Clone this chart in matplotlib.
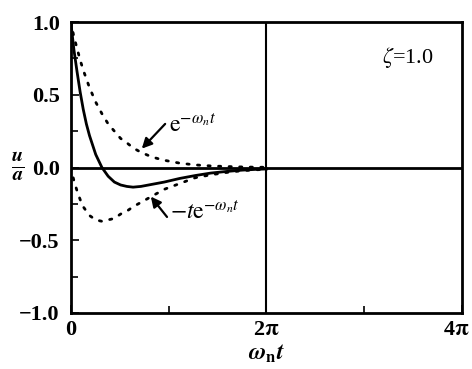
import numpy as np
import matplotlib
matplotlib.use("Agg")
from matplotlib import pyplot as plt
import matplotlib.transforms as mtransforms

plt.rcParams['font.family'] = ['Liberation Serif', 'DejaVu Serif']
plt.rcParams['mathtext.fontset'] = 'stix'

# omega_n * t values (radians)
t = [0.0, 0.1, 0.2, 0.3, 0.4, 0.5, 0.6, 0.8, 1.0, 1.2, 1.4, 1.6, 1.8, 2.0,
     2.25, 2.5, 2.75, 3.0, 3.5, 4.0, 4.5, 5.0, 5.5, 6.0, 6.28]
# response u/a (solid)
u_resp = [1.00, 0.81, 0.66, 0.52, 0.40, 0.30, 0.22, 0.09, 0.0, -0.06, -0.10,
          -0.12, -0.13, -0.135, -0.13, -0.12, -0.11, -0.10, -0.075, -0.055,
          -0.038, -0.027, -0.018, -0.012, -0.010]
# e^{-w t} (dotted, upper)
u_exp = [1.00, 0.90, 0.82, 0.74, 0.67, 0.61, 0.55, 0.45, 0.37, 0.30, 0.25,
         0.20, 0.17, 0.135, 0.105, 0.082, 0.064, 0.050, 0.030, 0.018, 0.011,
         0.007, 0.004, 0.002, 0.002]
# -t e^{-w t} (dotted, lower)
u_texp = [0.0, -0.09, -0.16, -0.22, -0.27, -0.30, -0.33, -0.36, -0.37, -0.36,
          -0.35, -0.32, -0.30, -0.27, -0.24, -0.21, -0.18, -0.15, -0.11, -0.07,
          -0.05, -0.034, -0.022, -0.015, -0.012]

fig = plt.figure(figsize=(4.72, 3.69), dpi=100)
ax = fig.add_axes([0.150, 0.152, 0.829, 0.788])

ax.axhline(0, color='black', lw=2)
ax.axvline(2 * np.pi, color='black', lw=1.5)

ax.plot(t, u_resp, color='black', lw=2)
ax.plot(t, u_exp, color='black', lw=2, linestyle=(0, (0.8, 3)), dash_capstyle='round')
ax.plot(t, u_texp, color='black', lw=2, linestyle=(0, (0.8, 3)), dash_capstyle='round')

# annotations
arrow = dict(arrowstyle='-|>', color='black', lw=1.6, mutation_scale=15,
             shrinkA=0, shrinkB=0)
ax.annotate('', xy=(2.28, 0.13), xytext=(3.03, 0.30), arrowprops=arrow)
ax.text(3.14, 0.29, r'$\mathrm{e}^{-\omega_n t}$', fontsize=17, ha='left', va='center')
ax.annotate('', xy=(2.57, -0.20), xytext=(3.09, -0.34), arrowprops=arrow)
ax.text(3.17, -0.31, r'$-t\mathrm{e}^{-\omega_n t}$', fontsize=17, ha='left', va='center')
ax.text(9.98, 0.76, r'$\zeta$=1.0', fontsize=16, ha='left', va='center')

ax.set_xlim(0, 4 * np.pi)
ax.set_ylim(-1, 1)
ax.set_xticks([0, 2 * np.pi, 4 * np.pi])
ax.set_xticklabels(['0', r'2$\mathbf{\pi}$', r'4$\mathbf{\pi}$'])
ax.set_xticks([np.pi, 3 * np.pi], minor=True)
ax.set_yticks([-1.0, -0.5, 0.0, 0.5, 1.0])
ax.set_yticklabels(['\u22121.0', '\u22120.5', '0.0', '0.5', '1.0'])
ax.set_yticks([-0.75, -0.25, 0.25, 0.75], minor=True)
ax.tick_params(axis='both', which='both', direction='in', width=1.2)
ax.tick_params(axis='both', which='major', length=6, labelsize=16)
ax.tick_params(axis='x', which='major', pad=5)
ax.tick_params(axis='y', which='major', pad=8)
ax.tick_params(axis='both', which='minor', length=5)
for lab in ax.get_xticklabels() + ax.get_yticklabels():
    lab.set_fontweight('bold')
for sp in ax.spines.values():
    sp.set_linewidth(2)

# keep the 4pi label inside the figure
last = ax.get_xticklabels()[-1]
last.set_transform(last.get_transform() +
                   mtransforms.ScaledTranslation(-6 / 100, 0, fig.dpi_scale_trans))

ax.set_xlabel(r'$\boldsymbol{\omega}_{\mathbf{n}}\boldsymbol{t}$', fontsize=17, labelpad=2)
fig.text(0.038, 0.548, r'$\frac{\boldsymbol{u}}{\boldsymbol{a}}$', fontsize=21,
         ha='center', va='center')

fig.savefig('out.png', dpi=100)
